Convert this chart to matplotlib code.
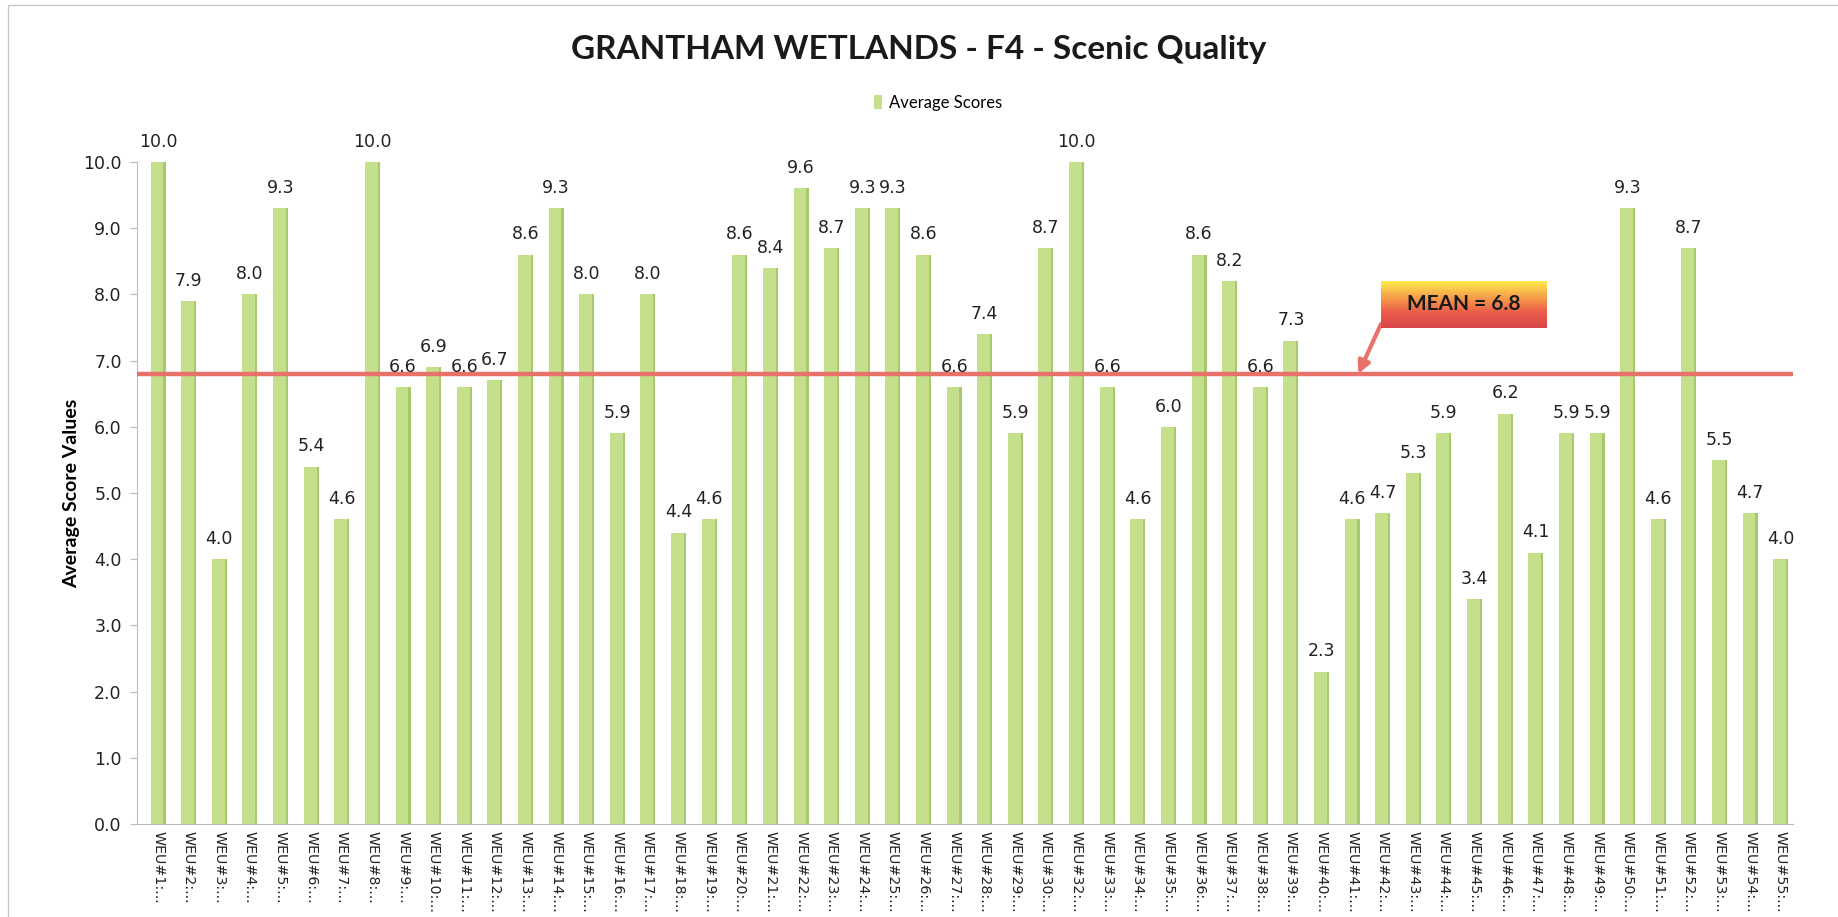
import numpy as np
import matplotlib
matplotlib.use("Agg")
import matplotlib.pyplot as plt
from matplotlib.patches import Rectangle
from matplotlib.colors import LinearSegmentedColormap

# ---- data ----
site_ids = list(range(1, 31)) + list(range(32, 56))
categories = [f"WEU#{i}:..." for i in site_ids]
scores = [10.0, 7.9, 4.0, 8.0, 9.3, 5.4, 4.6, 10.0, 6.6, 6.9,
          6.6, 6.7, 8.6, 9.3, 8.0, 5.9, 8.0, 4.4, 4.6, 8.6,
          8.4, 9.6, 8.7, 9.3, 9.3, 8.6, 6.6, 7.4, 5.9, 8.7,
          10.0, 6.6, 4.6, 6.0, 8.6, 8.2, 6.6, 7.3, 2.3, 4.6,
          4.7, 5.3, 5.9, 3.4, 6.2, 4.1, 5.9, 5.9, 9.3, 4.6,
          8.7, 5.5, 4.7, 4.0]
mean_value = 6.8
y_ticks = [0, 1, 2, 3, 4, 5, 6, 7, 8, 9, 10]
title = "GRANTHAM WETLANDS - F4 - Scenic Quality"
legend_label = "Average Scores"
y_label = "Average Score Values"
mean_label = "MEAN = 6.8"

W, H = 1838, 917
fig = plt.figure(figsize=(W / 100, H / 100), dpi=100)
fig.patch.set_facecolor("white")

# outer chart border
fig.add_artist(Rectangle((8 / W, -0.01), 1.2, 1 - 5 / H + 0.01, transform=fig.transFigure,
                         fill=False, edgecolor="#c8c8c8", lw=1.0))

ax = fig.add_axes([137 / W, 1 - 824 / H, (1793 - 137) / W, (824 - 162) / H])
x = np.arange(len(scores))

front_w = 0.42
side_w = 0.07
ax.bar(x - side_w / 2, scores, width=front_w, color="#C5E08C", edgecolor="none",
       zorder=2, label=legend_label)
ax.bar(x + front_w / 2, scores, width=side_w, color="#A8C96A",
       edgecolor="none", zorder=2)

for xi, v in zip(x, scores):
    ax.text(xi, v + 0.17, f"{v:.1f}", ha="center", va="bottom", fontsize=12.5,
            family="DejaVu Sans", color="#222222", clip_on=False, zorder=4)

ax.axhline(mean_value, color="#E8716A", lw=3.2, zorder=3)

ax.set_xlim(-0.69, 53.4)
ax.set_ylim(0, 10)
ax.set_yticks(y_ticks)
ax.set_yticklabels([f"{t:.1f}" for t in y_ticks], fontsize=12.5, family="DejaVu Sans",
                   color="#222222")
ax.set_xticks(x)
ax.set_xticklabels(categories, rotation=270, fontsize=10.3, family="DejaVu Sans",
                   color="#222222", va="top", ha="center")
ax.tick_params(axis="x", length=0, pad=5)
ax.tick_params(axis="y", length=5, color="#bbbbbb", pad=6)
for s in ["top", "right"]:
    ax.spines[s].set_visible(False)
ax.spines["left"].set_color("#bbbbbb")
ax.spines["bottom"].set_color("#bbbbbb")
ax.set_ylabel(y_label, fontsize=14, fontweight="bold", family="Lato", labelpad=2)

fig.text(0.5, 1 - 49 / H, title, ha="center", va="center", fontsize=24,
         fontweight="bold", family="Lato", color="#1a1a1a")

leg = ax.legend(loc="center", bbox_to_anchor=(938 / W, 1 - 103 / H),
                bbox_transform=fig.transFigure, frameon=False,
                prop={"family": "Lato", "size": 12}, handlelength=0.5,
                handleheight=0.9, handletextpad=0.4)

# mean annotation box with gradient
bx0, by0, bx1, by1 = 1381, 281, 1547, 328
bax = fig.add_axes([bx0 / W, 1 - by1 / H, (bx1 - bx0) / W, (by1 - by0) / H])
grad = np.linspace(0, 1, 256).reshape(-1, 1)
cmap = LinearSegmentedColormap.from_list("m", ["#FFEC4C", "#F6A24A", "#EC5C4C", "#D9464A"])
bax.imshow(grad, aspect="auto", cmap=cmap, extent=[0, 1, 0, 1], origin="upper")
bax.set_xticks([]); bax.set_yticks([])
for s in bax.spines.values():
    s.set_visible(False)
bax.text(0.5, 0.5, mean_label, ha="center", va="center", fontsize=15, fontweight="bold",
         family="Lato", color="#1a1a1a", transform=bax.transAxes)

ax.annotate("", xy=(39.2, mean_value), xycoords="data",
            xytext=(1381, H - 324), textcoords="figure pixels",
            arrowprops=dict(arrowstyle="-|>", color="#E8716A", lw=3, mutation_scale=18,
                            shrinkA=0, shrinkB=0), zorder=5)

fig.savefig("out.png", dpi=100, facecolor="white")
